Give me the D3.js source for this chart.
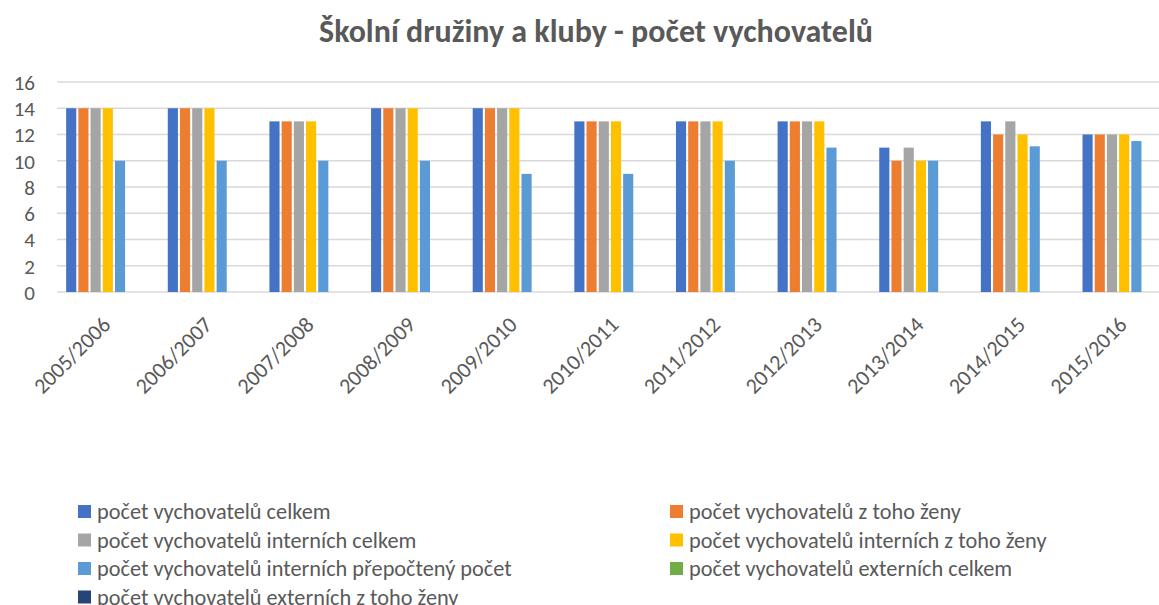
<!DOCTYPE html>
<html>
<head>
<meta charset="utf-8">
<script src="https://cdn.jsdelivr.net/npm/d3@7"></script>
<style>
  body { margin: 0; background: #fff; }
  svg { display: block; }
  svg text { font-family: Calibri, Carlito, Lato, sans-serif; fill: #595959; }
</style>
</head>
<body>
<div class="chart"></div>
<script>
var svgWidth = 1159;
var svgHeight = 605;

// data
var years = ["2005/2006", "2006/2007", "2007/2008", "2008/2009", "2009/2010", "2010/2011",
  "2011/2012", "2012/2013", "2013/2014", "2014/2015", "2015/2016"];
var seriesNames = [
  "počet vychovatelů celkem",
  "počet vychovatelů z toho ženy",
  "počet vychovatelů interních celkem",
  "počet vychovatelů interních z toho ženy",
  "počet vychovatelů interních přepočtený počet",
  "počet vychovatelů externích celkem",
  "počet vychovatelů externích z toho ženy"
];
var celkem = [14, 14, 13, 14, 14, 13, 13, 13, 11, 13, 12];
var zeny = [14, 14, 13, 14, 14, 13, 13, 13, 10, 12, 12];
var interniCelkem = [14, 14, 13, 14, 14, 13, 13, 13, 11, 13, 12];
var interniZeny = [14, 14, 13, 14, 14, 13, 13, 13, 10, 12, 12];
var interniPrepocet = [10, 10, 10, 10, 9, 9, 10, 11, 10, 11.1, 11.5];
var externiCelkem = [0, 0, 0, 0, 0, 0, 0, 0, 0, 0, 0];
var externiZeny = [0, 0, 0, 0, 0, 0, 0, 0, 0, 0, 0];
var yTicks = [0, 2, 4, 6, 8, 10, 12, 14, 16];
var colors = ["#4472C4", "#ED7D31", "#A5A5A5", "#FFC000", "#5B9BD5", "#70AD47", "#264478"];

var allSeries = [celkem, zeny, interniCelkem, interniZeny, interniPrepocet, externiCelkem, externiZeny];

var svg = d3.select(".chart")
  .append("svg")
  .attr("width", svgWidth)
  .attr("height", svgHeight);

// title
svg.append("text")
  .attr("x", 596)
  .attr("y", 42)
  .attr("text-anchor", "middle")
  .style("font-size", "32px")
  .style("font-weight", "bold")
  .text("Školní družiny a kluby - počet vychovatelů");

// scales
var x0 = d3.scaleBand()
  .domain(years)
  .range([57, 1175])
  .paddingInner(0.18)
  .paddingOuter(0.09);

var x1 = d3.scaleBand()
  .domain(d3.range(seriesNames.length))
  .range([0, x0.bandwidth()])
  .paddingInner(0.17);

var y = d3.scaleLinear()
  .domain([0, 16])
  .range([292, 82]);

// gridlines
svg.append("g")
  .selectAll("line")
  .data(yTicks)
  .enter()
  .append("line")
  .attr("x1", 57)
  .attr("x2", svgWidth)
  .attr("y1", d => y(d))
  .attr("y2", d => y(d))
  .attr("stroke", "#D9D9D9")
  .attr("stroke-width", 1.3);

// y axis labels
var leftAxis = d3.axisLeft(y).tickValues(yTicks).tickSize(0).tickPadding(0);
var yAxisG = svg.append("g")
  .attr("transform", "translate(35,0)")
  .call(leftAxis);
yAxisG.select(".domain").remove();
yAxisG.selectAll("text").style("font-size", "21px").attr("dy", "0.35em");

// bars
var groups = svg.append("g")
  .selectAll("g")
  .data(years)
  .enter()
  .append("g")
  .attr("transform", d => `translate(${x0(d)},0)`);

groups.selectAll("rect")
  .data((d, i) => allSeries.map((s, k) => ({ k: k, v: s[i] })))
  .enter()
  .append("rect")
  .filter(d => d.v > 0)
  .attr("x", d => x1(d.k))
  .attr("y", d => y(d.v))
  .attr("width", x1.bandwidth())
  .attr("height", d => y(0) - y(d.v))
  .attr("fill", d => colors[d.k]);

// x axis labels
var bottomAxis = d3.axisBottom(x0).tickSize(0).tickPadding(0);
var xAxisG = svg.append("g")
  .attr("transform", "translate(0,292)")
  .call(bottomAxis);
xAxisG.select(".domain").remove();
xAxisG.selectAll("text")
  .style("font-size", "22px")
  .attr("text-anchor", "end")
  .attr("dy", 0)
  .attr("y", 0)
  .attr("transform", "translate(4,34) rotate(-45)");

// legend
var legend = svg.append("g")
  .selectAll("g")
  .data(seriesNames)
  .enter()
  .append("g")
  .attr("transform", (d, i) => `translate(${i % 2 === 0 ? 78 : 670},${505 + Math.floor(i / 2) * 28.5})`);

legend.append("rect")
  .attr("width", 13)
  .attr("height", 13)
  .attr("fill", (d, i) => colors[i]);

legend.append("text")
  .attr("x", 19)
  .attr("y", 14)
  .style("font-size", "22.3px")
  .text(d => d);
</script>
</body>
</html>
